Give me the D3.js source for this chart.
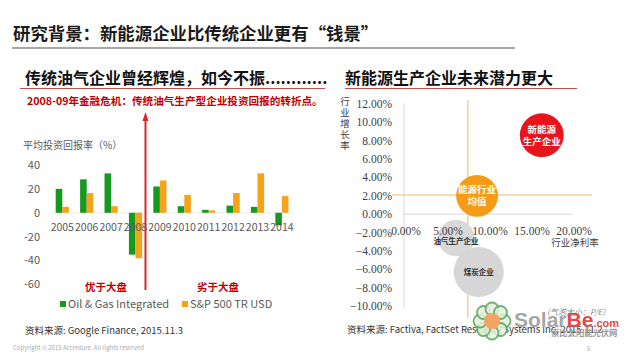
<!DOCTYPE html>
<html>
<head>
<meta charset="utf-8">
<script src="https://cdn.jsdelivr.net/npm/d3@7"></script>
<style>
    html, body { margin: 0; padding: 0; background: #fff; }
    svg { display: block; font-family: "Noto Sans CJK SC", "Noto Sans", sans-serif; }
</style>
</head>
<body>
<svg id="chart" width="630" height="361"></svg>
<script>
// Left chart: average return on investment (%)
const years       = ["2005", "2006", "2007", "2008", "2009", "2010", "2011", "2012", "2013", "2014"];
const oilGas      = [20, 28, 33, -35, 22, 5.5, 2.5, 6, 5, -10.5];
const sp500       = [5, 16.5, 5.5, -38, 27, 15, 2, 16.5, 33, 14];
const seriesNames = ["Oil & Gas Integrated", "S&P 500 TR USD"];
const returnTicks = [40, 20, 0, -20, -40, -60];

// Right chart: net margin vs growth, bubble size = P/E
const sectors      = ["新能源生产企业", "能源行业均值", "油气生产企业", "煤炭企业"];
const sectorLabels = [["新能源", "生产企业"], ["能源行业", "均值"], ["油气生产企业"], ["煤炭企业"]];
const netMargin    = [16.4, 8.7, 6.2, 8.9];
const growthRate   = [8.6, 2.0, -2.6, -6.3];
const peRatio      = [23, 21, 16, 30];
const marginTicks  = [0, 5, 10, 15, 20];
const growthTicks  = [12, 10, 8, 6, 4, 2, 0, -2, -4, -6, -8, -10];
const avgMargin    = 7.6;
const avgGrowth    = 2.1;

const RED    = "#c00000";
const GREEN  = "#17991f";
const ORANGE = "#f7a21b";
const GREY   = "#595959";

let svg = d3.select("#chart");

/**
 * Page title and the two section headings.
 */
function drawHeadings()
{
    svg.append("text")
        .attr("x", 13).attr("y", 40)
        .attr("font-size", 17.4).attr("font-weight", "bold").attr("fill", "#1a1a1a")
        .text("研究背景：新能源企业比传统企业更有“钱景”");

    svg.append("line")
        .attr("x1", 12).attr("x2", 515).attr("y1", 48).attr("y2", 48)
        .attr("stroke", "#a6a6a6").attr("stroke-width", 2);

    svg.append("text")
        .attr("x", 25).attr("y", 84)
        .attr("font-size", 16).attr("font-weight", "bold").attr("fill", "#111")
        .text("传统油气企业曾经辉煌，如今不振............");

    svg.append("text")
        .attr("x", 345).attr("y", 84)
        .attr("font-size", 16).attr("font-weight", "bold").attr("fill", "#111")
        .text("新能源生产企业未来潜力更大");

    [[20, 325], [345, 577]].forEach(([a, b]) => {
        svg.append("line")
            .attr("x1", a).attr("x2", b).attr("y1", 88.5).attr("y2", 88.5)
            .attr("stroke", "#c0504d").attr("stroke-width", 1);
    });

    svg.append("text")
        .attr("x", 13).attr("y", 350)
        .attr("font-size", 6).attr("fill", "#aaa")
        .text("Copyright © 2015 Accenture. All rights reserved");

    svg.append("text")
        .attr("x", 587).attr("y", 351)
        .attr("font-size", 6).attr("fill", "#aaa")
        .text("5");
}

/**
 * Grouped bar chart of returns.
 */
function drawBars()
{
    let x = d3.scaleBand()
        .domain(years)
        .range([50.1, 294.1])
        .paddingInner(0.46)
        .paddingOuter(0.23);

    let sub = d3.scaleBand()
        .domain(seriesNames)
        .range([0, x.bandwidth()]);

    let y = d3.scaleLinear()
        .domain([-60, 40])
        .range([284.5, 165]);

    let color = d3.scaleOrdinal().domain(seriesNames).range([GREEN, ORANGE]);

    svg.append("text")
        .attr("x", 23).attr("y", 149)
        .attr("font-size", 10).attr("fill", GREY)
        .text("平均投资回报率（%）");

    svg.append("g")
        .selectAll("text")
        .data(returnTicks)
        .join("text")
        .attr("x", 40).attr("y", d => y(d)).attr("dy", "0.35em")
        .attr("text-anchor", "end")
        .attr("font-size", 11).attr("fill", GREY)
        .text(d => d);

    svg.append("line")
        .attr("x1", 50).attr("x2", 294).attr("y1", y(0)).attr("y2", y(0))
        .attr("stroke", "#ececec");

    let groups = svg.append("g")
        .selectAll("g")
        .data(years.map((yr, i) => ({year: yr, values: [oilGas[i], sp500[i]]})))
        .join("g")
        .attr("transform", d => "translate(" + x(d.year) + ",0)");

    groups.selectAll("rect")
        .data(d => d.values.map((v, i) => ({key: seriesNames[i], value: v})))
        .join("rect")
        .attr("x", d => sub(d.key))
        .attr("width", sub.bandwidth())
        .attr("y", d => Math.min(y(d.value), y(0)))
        .attr("height", d => Math.abs(y(d.value) - y(0)))
        .attr("fill", d => color(d.key));

    svg.append("g")
        .selectAll("text")
        .data(years)
        .join("text")
        .attr("x", d => x(d) + x.bandwidth() / 2)
        .attr("y", 231)
        .attr("text-anchor", "middle")
        .attr("font-size", 10.5).attr("fill", GREY)
        .text(d => d);

    // Turning point arrow between 2008 and 2009
    let ax = x("2008") + x.bandwidth() + 3.4;
    svg.append("line")
        .attr("x1", ax).attr("x2", ax).attr("y1", 290).attr("y2", 119)
        .attr("stroke", "#d9262b").attr("stroke-width", 2);
    svg.append("path")
        .attr("d", `M${ax},112L${ax - 3},121L${ax + 3},121Z`)
        .attr("fill", "#d9262b");

    svg.append("text")
        .attr("x", 27).attr("y", 105)
        .attr("font-size", 10.6).attr("font-weight", "bold").attr("fill", RED)
        .text("2008-09年金融危机：传统油气生产型企业投资回报的转折点。");

    [["优于大盘", 85], ["劣于大盘", 197]].forEach(([t, px]) => {
        svg.append("text")
            .attr("x", px).attr("y", 291)
            .attr("font-size", 10.5).attr("font-weight", "bold").attr("fill", RED)
            .text(t);
    });

    // Legend
    let legend = svg.append("g")
        .selectAll("g")
        .data(seriesNames)
        .join("g")
        .attr("transform", (d, i) => "translate(" + [60, 182][i] + ",304)");
    legend.append("rect")
        .attr("x", 0).attr("y", -3).attr("width", 6).attr("height", 6)
        .attr("fill", d => color(d));
    legend.append("text")
        .attr("x", 8).attr("y", 4)
        .attr("font-size", 11).attr("fill", GREY)
        .text(d => d);

    svg.append("text")
        .attr("x", 25).attr("y", 334)
        .attr("font-size", 9.5).attr("fill", "#333")
        .text("资料来源: Google Finance, 2015.11.3");
}

/**
 * Bubble chart of margin vs growth.
 */
function drawBubbles()
{
    let x = d3.scaleLinear().domain([0, 20]).range([404, 572]);
    let y = d3.scaleLinear().domain([-10, 12]).range([306, 104]);
    let r = d3.scaleSqrt().domain([0, 30]).range([0, 25]);
    let fill = d3.scaleOrdinal().domain(sectors).range(["#e8141c", "#f59c14", "#d9d9d9", "#d6d6d6"]);
    let serif = "'Liberation Serif', 'DejaVu Serif', serif";

    // Axes
    svg.append("line")
        .attr("x1", x(0)).attr("x2", x(0)).attr("y1", y(12) - 1).attr("y2", y(-10) + 2)
        .attr("stroke", "#d9d9d9");
    svg.append("line")
        .attr("x1", x(0)).attr("x2", x(20) + 1).attr("y1", y(0)).attr("y2", y(0))
        .attr("stroke", "#d9d9d9");

    svg.append("g")
        .selectAll("text")
        .data(growthTicks)
        .join("text")
        .attr("x", 392).attr("y", d => y(d)).attr("dy", "0.35em")
        .attr("text-anchor", "end")
        .attr("font-family", serif).attr("font-size", 11.5).attr("fill", "#404040")
        .text(d => d3.format(".2f")(d) + "%");

    svg.append("text")
        .attr("x", 575).attr("y", 246)
        .attr("text-anchor", "middle")
        .attr("font-size", 9.5).attr("fill", "#404040")
        .text("行业净利率");

    svg.append("g")
        .selectAll("text")
        .data(Array.from("行业增长率"))
        .join("text")
        .attr("x", 345).attr("y", (d, i) => 105 + i * 11)
        .attr("text-anchor", "middle")
        .attr("font-size", 9.5).attr("fill", "#404040")
        .text(d => d);

    // Average lines
    svg.append("line")
        .attr("x1", x(avgMargin)).attr("x2", x(avgMargin)).attr("y1", 100).attr("y2", 318)
        .attr("stroke", "#f3cf9c").attr("stroke-width", 1.5);
    svg.append("line")
        .attr("x1", 392).attr("x2", 592).attr("y1", y(avgGrowth)).attr("y2", y(avgGrowth))
        .attr("stroke", "#f3cf9c").attr("stroke-width", 1.5);

    let data = sectors.map((s, i) => ({
        name: s, label: sectorLabels[i], m: netMargin[i], g: growthRate[i], pe: peRatio[i]
    }));

    let nodes = svg.append("g")
        .selectAll("g")
        .data(data)
        .join("g")
        .attr("transform", d => "translate(" + x(d.m) + "," + y(d.g) + ")");

    nodes.append("circle")
        .attr("r", d => r(d.pe))
        .attr("fill", d => fill(d.name));

    // Margin tick labels sit on top of the grey bubbles
    svg.append("g")
        .selectAll("text")
        .data(marginTicks)
        .join("text")
        .attr("x", d => x(d) + 2).attr("y", 235)
        .attr("text-anchor", "middle")
        .attr("font-family", serif).attr("font-size", 11.5).attr("fill", "#404040")
        .text(d => d3.format(".2f")(d) + "%");

    nodes.each(function (d, i) {
        let grey = i > 1;
        let lines = d.label;
        d3.select(this).selectAll("text")
            .data(lines)
            .join("text")
            .attr("y", (t, k) => (k - (lines.length - 1) / 2) * 12 + (i === 2 ? 3 : 0))
            .attr("dy", "0.35em")
            .attr("text-anchor", "middle")
            .attr("font-size", grey ? 7.5 : 9.5)
            .attr("font-weight", "bold")
            .attr("fill", grey ? "#333" : "#fff")
            .text(t => t);
    });

    svg.append("text")
        .attr("x", 542).attr("y", 315)
        .attr("font-size", 8).attr("font-style", "italic").attr("fill", "#888")
        .text("（气泡大小：P/E）");

    svg.append("text")
        .attr("x", 347).attr("y", 333)
        .attr("font-size", 9.5).attr("fill", "#333")
        .text("资料来源: Factiva, FactSet Research Systems Inc, 2015.11.2");
}

/**
 * Site watermark in the bottom right corner.
 */
function drawWatermark()
{
    let mark = svg.append("g").attr("transform", "translate(492,321)");
    d3.range(8).forEach(i => {
        let a = i * Math.PI / 4;
        mark.append("circle")
            .attr("cx", 12 * Math.cos(a)).attr("cy", 12 * Math.sin(a)).attr("r", 6.5)
            .attr("fill", "#e3f0dd").attr("stroke", "#5aa55a").attr("stroke-width", 1.8)
            .attr("opacity", 0.85);
    });
    mark.append("circle").attr("r", 8).attr("fill", "#f4a460");

    let word = svg.append("text")
        .attr("x", 514).attr("y", 327)
        .attr("font-family", "'Liberation Sans', sans-serif")
        .attr("font-size", 21).attr("font-weight", "bold");
    word.append("tspan").attr("fill", "#a6a6a6").text("Solar");
    word.append("tspan").attr("fill", "#e34a4a").text("Be");
    word.append("tspan").attr("fill", "#e34a4a").attr("font-size", 11).text(".com");

    svg.append("text")
        .attr("x", 551).attr("y", 336)
        .attr("font-size", 8.3).attr("font-weight", "bold").attr("fill", "#999")
        .text("索比太阳能光伏网");
}

drawHeadings();
drawBars();
drawBubbles();
drawWatermark();
</script>
</body>
</html>
